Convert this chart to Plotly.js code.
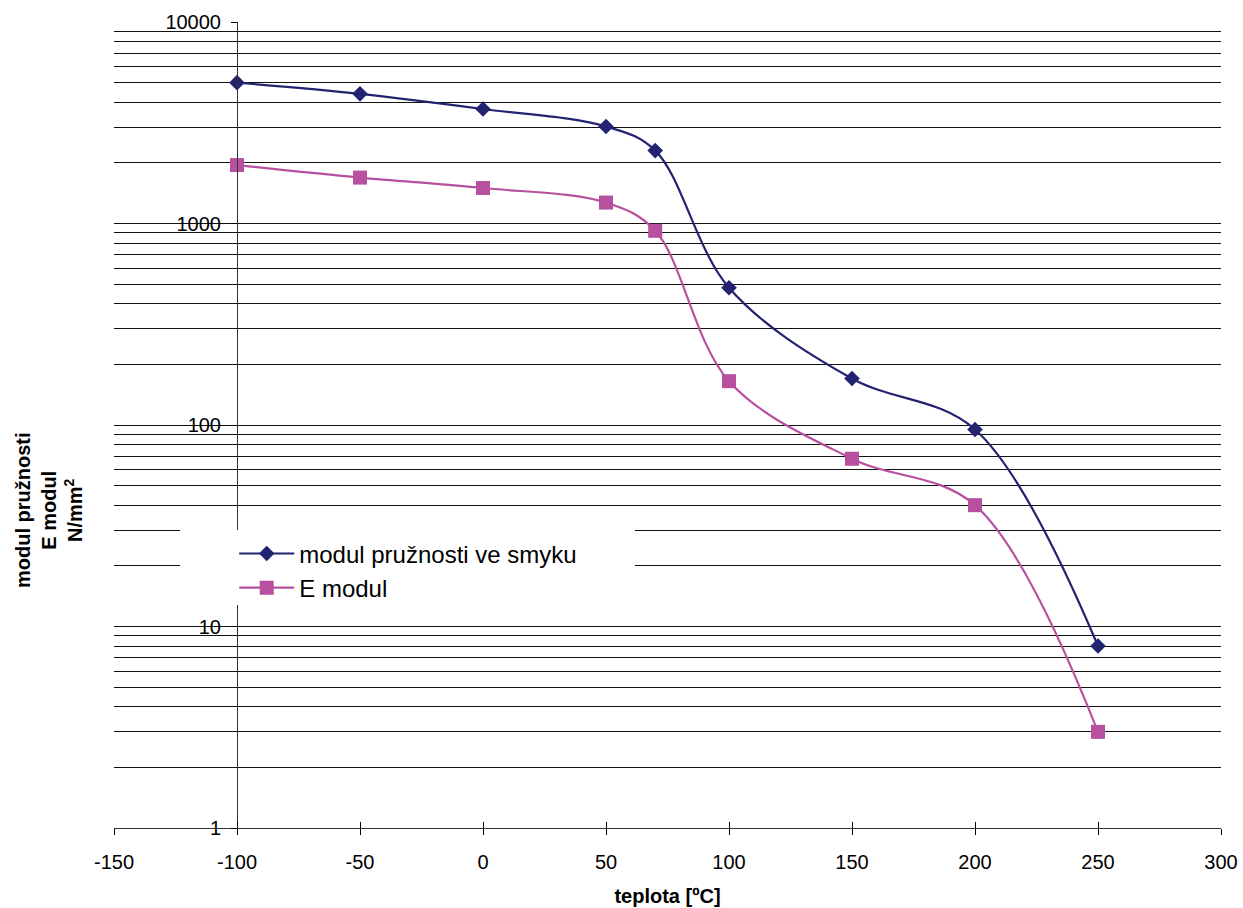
<!DOCTYPE html>
<html>
<head>
<meta charset="utf-8">
<script src="https://cdn.plot.ly/plotly-3.0.1.min.js"></script>
<style>html,body{margin:0;padding:0;background:#fff;}#chart{width:1243px;height:908px;}</style>
</head>
<body>
<div id="chart"></div>
<script>
// Data
const temperatures = [-100, -50, 0, 50, 70, 100, 150, 200, 250];
const shearModulus = [5000, 4400, 3700, 3030, 2300, 480, 170, 95, 8];
const eModulus = [1950, 1690, 1500, 1270, 920, 165, 68, 40, 3];
const seriesNames = ["modul pružnosti ve smyku", "E modul"];
const xTickVals = [-150, -100, -50, 0, 50, 100, 150, 200, 250, 300];
const xTickText = ["-150", "-100", "-50", "0", "50", "100", "150", "200", "250", "300"];
const yTickVals = [1, 10, 100, 1000, 10000];
const yTickText = ["1", "10", "100", "1000", "10000"];

const navy = "#232371";
const pink = "#B6509F";
const font = "Arial, 'Liberation Sans', sans-serif";

const xMin = -150, xMax = 300, yAxisAt = -100;

const traces = [
  {
    x: temperatures, y: shearModulus, name: seriesNames[0],
    type: "scatter", mode: "lines+markers",
    line: {color: navy, width: 2.2, shape: "spline", smoothing: 1},
    marker: {symbol: "diamond", size: 12, color: navy},
    xaxis: "x", yaxis: "y", cliponaxis: false
  },
  {
    x: temperatures, y: eModulus, name: seriesNames[1],
    type: "scatter", mode: "lines+markers",
    line: {color: pink, width: 2.2, shape: "spline", smoothing: 1},
    marker: {symbol: "square", size: 14, color: pink},
    xaxis: "x", yaxis: "y", cliponaxis: false
  },
  {
    x: [], y: [], xaxis: "x2", yaxis: "y", showlegend: false, hoverinfo: "skip", mode: "none"
  }
];

const layout = {
  width: 1243, height: 908,
  margin: {l: 114, r: 22, t: 22, b: 80},
  paper_bgcolor: "#fff", plot_bgcolor: "#fff",
  font: {family: font, size: 20, color: "#000"},
  showlegend: true,
  xaxis: {
    range: [xMin, xMax], tickvals: xTickVals, ticktext: xTickText, ticks: "outside", ticklen: 6,
    tickcolor: "#000", tickwidth: 1,
    showline: true, linecolor: "#333", linewidth: 1,
    showgrid: false, zeroline: false, anchor: "y",
    ticklabelstandoff: 10,
    tickfont: {family: font, size: 20, color: "#000"},
    title: {text: "teplota [ºC]", font: {family: font, size: 20, color: "#000", weight: "bold"}, standoff: 16}
  },
  xaxis2: {
    range: [xMin, xMax], tickvals: xTickVals, ticks: "inside", ticklen: 6,
    tickcolor: "#000", tickwidth: 1, overlaying: "x", anchor: "y",
    showticklabels: false, showline: false, showgrid: false, zeroline: false
  },
  yaxis: {
    type: "log", range: [0, 4], tickvals: yTickVals, ticktext: yTickText,
    ticks: "outside", ticklen: 6, tickcolor: "#000",
    anchor: "free", position: (yAxisAt - xMin) / (xMax - xMin),
    showline: true, linecolor: "#333", linewidth: 1,
    showgrid: true, gridcolor: "#111", gridwidth: 1,
    zeroline: false, ticklabelstandoff: 6,
    tickfont: {family: font, size: 20, color: "#000"},
    minor: {dtick: "D1", showgrid: true, gridcolor: "#111", gridwidth: 1, ticks: ""}
  },
  legend: {
    x: 0.1086, y: 0.368, xanchor: "left", yanchor: "top",
    bgcolor: "rgba(0,0,0,0)", borderwidth: 0,
    font: {family: font, size: 24, color: "#000"},
    itemwidth: 55, tracegroupgap: 0
  },
  shapes: [
    {type: "rect", xref: "paper", yref: "paper", x0: 0.0596, x1: 0.4705, y0: 0.2767, y1: 0.3697,
     fillcolor: "#fff", line: {width: 0}, layer: "above"}
  ],
  annotations: [
    {
      text: "modul pružnosti<br>E modul<br>N/mm<sup>2</sup>",
      xref: "paper", yref: "paper", x: -0.0587, y: 0.3945,
      xanchor: "center", yanchor: "middle", textangle: -90, showarrow: false,
      font: {family: font, size: 20, color: "#000", weight: "bold"}
    }
  ]
};

Plotly.newPlot("chart", traces, layout, {displayModeBar: false, staticPlot: true});
</script>
</body>
</html>
